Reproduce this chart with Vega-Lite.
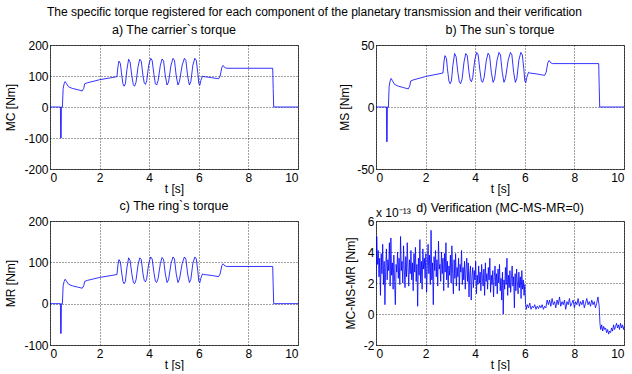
{
  "$schema": "https://vega.github.io/schema/vega-lite/v6.json",
  "background": "white",
  "padding": {"left": 4, "top": 6, "right": 0, "bottom": 0},
  "title": {"text": "The specific torque registered for each component of the planetary transmission and their verification", "fontSize": 12, "fontWeight": "normal", "font": "Liberation Sans", "color": "#000", "offset": 4, "anchor": "middle", "frame": "bounds"},
  "config": {
    "font": "Liberation Sans",
    "view": {"stroke": "#555", "strokeWidth": 1},
    "title": {"fontSize": 12.5, "fontWeight": "normal", "font": "Liberation Sans", "color": "#000", "offset": 3},
    "axis": {
      "labelFont": "Liberation Sans", "labelFontSize": 12, "labelColor": "#000",
      "titleFont": "Liberation Sans", "titleFontSize": 12, "titleFontWeight": "normal", "titleColor": "#000",
      "grid": true, "gridColor": "#000", "gridDash": [1, 2], "gridOpacity": 0.75, "gridWidth": 1,
      "domain": false, "ticks": false, "labelPadding": 2, "minExtent": 0,
      "labelExpr": "replace(datum.label, '−', '-')"
    },
    "axisY": {"minExtent": 0},
    "axisX": {"labelPadding": 3, "titlePadding": 0, "minExtent": 0},
    "line": {"color": "#0000ff", "strokeWidth": 0.8}
  },
  "datasets": {
    "torque": [
      {"t": 0, "MC": 0, "MS": 0, "MR": 0},
      {"t": 0.42, "MC": 0, "MS": 0, "MR": 0},
      {"t": 0.43, "MC": -100, "MS": -28, "MR": -72},
      {"t": 0.45, "MC": -100, "MS": -28, "MR": -72},
      {"t": 0.46, "MC": 0, "MS": 0, "MR": 0},
      {"t": 0.5, "MC": 0, "MS": 0, "MR": 0},
      {"t": 0.53, "MC": 60, "MS": 16.8, "MR": 43.2},
      {"t": 0.57, "MC": 75, "MS": 21, "MR": 54},
      {"t": 0.61, "MC": 82, "MS": 23, "MR": 59},
      {"t": 0.66, "MC": 76, "MS": 21.3, "MR": 54.7},
      {"t": 0.75, "MC": 65, "MS": 18.2, "MR": 46.8},
      {"t": 0.9, "MC": 60, "MS": 16.8, "MR": 43.2},
      {"t": 1.1, "MC": 56, "MS": 15.7, "MR": 40.3},
      {"t": 1.3, "MC": 52, "MS": 14.6, "MR": 37.4},
      {"t": 1.36, "MC": 60, "MS": 16.8, "MR": 43.2},
      {"t": 1.4, "MC": 75, "MS": 21, "MR": 54},
      {"t": 1.5, "MC": 78, "MS": 21.8, "MR": 56.2},
      {"t": 2.0, "MC": 88, "MS": 24.6, "MR": 63.4},
      {"t": 2.5, "MC": 95, "MS": 26.6, "MR": 68.4},
      {"t": 2.7, "MC": 98, "MS": 27.4, "MR": 70.6},
      {"t": 2.74, "MC": 130, "MS": 36.4, "MR": 93.6},
      {"t": 2.78, "MC": 148, "MS": 41.4, "MR": 106.6},
      {"t": 2.84, "MC": 140, "MS": 39.2, "MR": 100.8},
      {"t": 2.88, "MC": 110, "MS": 30.8, "MR": 79.2},
      {"t": 2.94, "MC": 75, "MS": 21, "MR": 54},
      {"t": 2.99, "MC": 67, "MS": 18.8, "MR": 48.2},
      {"t": 3.04, "MC": 75, "MS": 21, "MR": 54},
      {"t": 3.1, "MC": 120, "MS": 33.6, "MR": 86.4},
      {"t": 3.17, "MC": 154, "MS": 43.1, "MR": 110.9},
      {"t": 3.23, "MC": 145, "MS": 40.6, "MR": 104.4},
      {"t": 3.3, "MC": 100, "MS": 28, "MR": 72},
      {"t": 3.36, "MC": 72, "MS": 20.2, "MR": 51.8},
      {"t": 3.41, "MC": 67, "MS": 18.8, "MR": 48.2},
      {"t": 3.47, "MC": 80, "MS": 22.4, "MR": 57.6},
      {"t": 3.55, "MC": 130, "MS": 36.4, "MR": 93.6},
      {"t": 3.62, "MC": 154, "MS": 43.1, "MR": 110.9},
      {"t": 3.68, "MC": 148, "MS": 41.4, "MR": 106.6},
      {"t": 3.75, "MC": 100, "MS": 28, "MR": 72},
      {"t": 3.8, "MC": 78, "MS": 21.8, "MR": 56.2},
      {"t": 3.85, "MC": 73, "MS": 20.4, "MR": 52.6},
      {"t": 3.9, "MC": 85, "MS": 23.8, "MR": 61.2},
      {"t": 3.98, "MC": 135, "MS": 37.8, "MR": 97.2},
      {"t": 4.06, "MC": 157, "MS": 44, "MR": 113},
      {"t": 4.12, "MC": 150, "MS": 42, "MR": 108},
      {"t": 4.19, "MC": 105, "MS": 29.4, "MR": 75.6},
      {"t": 4.25, "MC": 75, "MS": 21, "MR": 54},
      {"t": 4.3, "MC": 71, "MS": 19.9, "MR": 51.1},
      {"t": 4.36, "MC": 85, "MS": 23.8, "MR": 61.2},
      {"t": 4.45, "MC": 135, "MS": 37.8, "MR": 97.2},
      {"t": 4.52, "MC": 155, "MS": 43.4, "MR": 111.6},
      {"t": 4.58, "MC": 148, "MS": 41.4, "MR": 106.6},
      {"t": 4.65, "MC": 100, "MS": 28, "MR": 72},
      {"t": 4.72, "MC": 71, "MS": 19.9, "MR": 51.1},
      {"t": 4.78, "MC": 80, "MS": 22.4, "MR": 57.6},
      {"t": 4.88, "MC": 135, "MS": 37.8, "MR": 97.2},
      {"t": 4.96, "MC": 157, "MS": 44, "MR": 113},
      {"t": 5.02, "MC": 150, "MS": 42, "MR": 108},
      {"t": 5.09, "MC": 100, "MS": 28, "MR": 72},
      {"t": 5.16, "MC": 71, "MS": 19.9, "MR": 51.1},
      {"t": 5.22, "MC": 82, "MS": 23, "MR": 59},
      {"t": 5.33, "MC": 135, "MS": 37.8, "MR": 97.2},
      {"t": 5.42, "MC": 157, "MS": 44, "MR": 113},
      {"t": 5.48, "MC": 150, "MS": 42, "MR": 108},
      {"t": 5.55, "MC": 100, "MS": 28, "MR": 72},
      {"t": 5.62, "MC": 71, "MS": 19.9, "MR": 51.1},
      {"t": 5.68, "MC": 82, "MS": 23, "MR": 59},
      {"t": 5.76, "MC": 135, "MS": 37.8, "MR": 97.2},
      {"t": 5.84, "MC": 157, "MS": 44, "MR": 113},
      {"t": 5.9, "MC": 150, "MS": 42, "MR": 108},
      {"t": 5.96, "MC": 110, "MS": 30.8, "MR": 79.2},
      {"t": 6.0, "MC": 75, "MS": 21, "MR": 54},
      {"t": 6.04, "MC": 70, "MS": 19.6, "MR": 50.4},
      {"t": 6.08, "MC": 85, "MS": 23.8, "MR": 61.2},
      {"t": 6.15, "MC": 100, "MS": 28, "MR": 72},
      {"t": 6.2, "MC": 98, "MS": 27.4, "MR": 70.6},
      {"t": 6.5, "MC": 95, "MS": 26.6, "MR": 68.4},
      {"t": 6.8, "MC": 91, "MS": 25.5, "MR": 65.5},
      {"t": 6.86, "MC": 100, "MS": 28, "MR": 72},
      {"t": 6.93, "MC": 128, "MS": 35.8, "MR": 92.2},
      {"t": 6.98, "MC": 134, "MS": 37.5, "MR": 96.5},
      {"t": 7.05, "MC": 127, "MS": 35.6, "MR": 91.4},
      {"t": 7.12, "MC": 125, "MS": 35, "MR": 90},
      {"t": 8.98, "MC": 125, "MS": 35, "MR": 90},
      {"t": 9.0, "MC": 60, "MS": 16.8, "MR": 43.2},
      {"t": 9.02, "MC": 0, "MS": 0, "MR": 0},
      {"t": 10, "MC": 0, "MS": 0, "MR": 0}
    ],
    "verif": [
      {"t": 0.0, "E": 2.0}, {"t": 0.03, "E": 5.0}, {"t": 0.06, "E": 3.2}, {"t": 0.09, "E": 4.1}, {"t": 0.12, "E": 2.4}, {"t": 0.15, "E": 3.6}, {"t": 0.18, "E": 1.2}, {"t": 0.21, "E": 3.9}, {"t": 0.24, "E": 2.6}, {"t": 0.27, "E": 4.5},
      {"t": 0.3, "E": 1.9}, {"t": 0.33, "E": 3.4}, {"t": 0.36, "E": 0.6}, {"t": 0.39, "E": 3.0}, {"t": 0.42, "E": 4.2}, {"t": 0.45, "E": 2.2}, {"t": 0.48, "E": 3.5}, {"t": 0.51, "E": 2.8}, {"t": 0.54, "E": 4.6}, {"t": 0.57, "E": 1.8},
      {"t": 0.6, "E": 4.9}, {"t": 0.63, "E": 2.5}, {"t": 0.66, "E": 3.3}, {"t": 0.69, "E": 1.6}, {"t": 0.72, "E": 3.8}, {"t": 0.75, "E": 2.1}, {"t": 0.78, "E": 0.6}, {"t": 0.81, "E": 3.2}, {"t": 0.84, "E": 2.7}, {"t": 0.87, "E": 4.0},
      {"t": 0.9, "E": 2.3}, {"t": 0.93, "E": 3.6}, {"t": 0.96, "E": 1.9}, {"t": 0.99, "E": 5.0}, {"t": 1.02, "E": 2.8}, {"t": 1.05, "E": 3.4}, {"t": 1.08, "E": 2.0}, {"t": 1.11, "E": 4.4}, {"t": 1.14, "E": 2.9}, {"t": 1.17, "E": 1.7},
      {"t": 1.2, "E": 3.7}, {"t": 1.23, "E": 2.4}, {"t": 1.26, "E": 4.6}, {"t": 1.29, "E": 3.0}, {"t": 1.32, "E": 1.8}, {"t": 1.35, "E": 3.5}, {"t": 1.38, "E": 2.6}, {"t": 1.41, "E": 4.1}, {"t": 1.44, "E": 2.2}, {"t": 1.47, "E": 3.3},
      {"t": 1.5, "E": 1.5}, {"t": 1.53, "E": 3.9}, {"t": 1.56, "E": 2.7}, {"t": 1.59, "E": 4.3}, {"t": 1.62, "E": 2.1}, {"t": 1.65, "E": 3.2}, {"t": 1.68, "E": 0.5}, {"t": 1.71, "E": 3.6}, {"t": 1.74, "E": 2.5}, {"t": 1.77, "E": 4.8},
      {"t": 1.8, "E": 2.0}, {"t": 1.83, "E": 3.4}, {"t": 1.86, "E": 1.6}, {"t": 1.89, "E": 4.2}, {"t": 1.92, "E": 2.9}, {"t": 1.95, "E": 3.6}, {"t": 1.98, "E": 2.3}, {"t": 2.01, "E": 3.9}, {"t": 2.04, "E": 1.4}, {"t": 2.07, "E": 3.1},
      {"t": 2.1, "E": 4.5}, {"t": 2.13, "E": 2.6}, {"t": 2.16, "E": 3.8}, {"t": 2.19, "E": 1.9}, {"t": 2.22, "E": 5.4}, {"t": 2.25, "E": 2.2}, {"t": 2.28, "E": 3.3}, {"t": 2.31, "E": 0.6}, {"t": 2.34, "E": 3.7}, {"t": 2.37, "E": 2.8},
      {"t": 2.4, "E": 4.1}, {"t": 2.43, "E": 2.4}, {"t": 2.46, "E": 3.5}, {"t": 2.49, "E": 1.8}, {"t": 2.52, "E": 4.7}, {"t": 2.55, "E": 2.9}, {"t": 2.58, "E": 3.2}, {"t": 2.61, "E": 2.1}, {"t": 2.64, "E": 4.0}, {"t": 2.67, "E": 2.6},
      {"t": 2.7, "E": 3.6}, {"t": 2.73, "E": 1.5}, {"t": 2.76, "E": 3.9}, {"t": 2.79, "E": 2.7}, {"t": 2.82, "E": 4.6}, {"t": 2.85, "E": 2.2}, {"t": 2.88, "E": 3.4}, {"t": 2.91, "E": 1.7}, {"t": 2.94, "E": 3.1}, {"t": 2.97, "E": 2.5},
      {"t": 3.0, "E": 3.8}, {"t": 3.03, "E": 2.0}, {"t": 3.06, "E": 4.4}, {"t": 3.09, "E": 2.6}, {"t": 3.12, "E": 1.3}, {"t": 3.15, "E": 3.5}, {"t": 3.18, "E": 2.3}, {"t": 3.21, "E": 3.9}, {"t": 3.24, "E": 1.8}, {"t": 3.27, "E": 3.0},
      {"t": 3.3, "E": 2.4}, {"t": 3.33, "E": 3.6}, {"t": 3.36, "E": 1.5}, {"t": 3.39, "E": 3.2}, {"t": 3.42, "E": 2.7}, {"t": 3.45, "E": 4.1}, {"t": 3.48, "E": 1.9}, {"t": 3.51, "E": 3.0}, {"t": 3.54, "E": 2.2}, {"t": 3.57, "E": 3.4},
      {"t": 3.6, "E": 1.6}, {"t": 3.63, "E": 2.9}, {"t": 3.66, "E": 3.6}, {"t": 3.69, "E": 2.1}, {"t": 3.72, "E": 3.3}, {"t": 3.75, "E": 1.1}, {"t": 3.78, "E": 2.6}, {"t": 3.81, "E": 3.1}, {"t": 3.84, "E": 0.9}, {"t": 3.87, "E": 2.4},
      {"t": 3.9, "E": 3.0}, {"t": 3.93, "E": 1.7}, {"t": 3.96, "E": 2.8}, {"t": 3.99, "E": 2.2}, {"t": 4.02, "E": 3.4}, {"t": 4.05, "E": 1.3}, {"t": 4.08, "E": 2.5}, {"t": 4.11, "E": 1.9}, {"t": 4.14, "E": 3.1}, {"t": 4.17, "E": 2.0},
      {"t": 4.2, "E": 2.7}, {"t": 4.23, "E": 1.5}, {"t": 4.26, "E": 3.2}, {"t": 4.29, "E": 2.3}, {"t": 4.32, "E": 1.8}, {"t": 4.35, "E": 2.9}, {"t": 4.38, "E": 1.2}, {"t": 4.41, "E": 3.3}, {"t": 4.44, "E": 2.1}, {"t": 4.47, "E": 2.6},
      {"t": 4.5, "E": 1.6}, {"t": 4.53, "E": 3.0}, {"t": 4.56, "E": 2.2}, {"t": 4.59, "E": 3.6}, {"t": 4.62, "E": 1.4}, {"t": 4.65, "E": 2.5}, {"t": 4.68, "E": 1.9}, {"t": 4.71, "E": 2.8}, {"t": 4.74, "E": 1.1}, {"t": 4.77, "E": 2.4},
      {"t": 4.8, "E": 3.1}, {"t": 4.83, "E": 1.8}, {"t": 4.86, "E": 2.6}, {"t": 4.89, "E": 1.3}, {"t": 4.92, "E": 2.9}, {"t": 4.95, "E": 2.0}, {"t": 4.98, "E": 3.2}, {"t": 5.01, "E": 1.5}, {"t": 5.04, "E": 2.3}, {"t": 5.07, "E": 0.9},
      {"t": 5.1, "E": 2.7}, {"t": 5.13, "E": 0.0}, {"t": 5.16, "E": 2.2}, {"t": 5.19, "E": 1.6}, {"t": 5.22, "E": 3.0}, {"t": 5.25, "E": 1.9}, {"t": 5.28, "E": 3.6}, {"t": 5.31, "E": 1.2}, {"t": 5.34, "E": 2.5}, {"t": 5.37, "E": 1.7},
      {"t": 5.4, "E": 2.8}, {"t": 5.43, "E": 1.4}, {"t": 5.46, "E": 2.3}, {"t": 5.49, "E": 3.1}, {"t": 5.52, "E": 1.8}, {"t": 5.55, "E": 2.4}, {"t": 5.58, "E": 0.4}, {"t": 5.61, "E": 2.6}, {"t": 5.64, "E": 1.5}, {"t": 5.67, "E": 2.9},
      {"t": 5.7, "E": 2.0}, {"t": 5.73, "E": 1.3}, {"t": 5.76, "E": 2.7}, {"t": 5.79, "E": 1.7}, {"t": 5.82, "E": 2.4}, {"t": 5.85, "E": 1.0}, {"t": 5.88, "E": 2.8}, {"t": 5.91, "E": 1.6}, {"t": 5.94, "E": 2.2}, {"t": 5.97, "E": 1.2},
      {"t": 6.0, "E": 1.9}, {"t": 6.03, "E": 0.7},
      {"t": 6.06, "E": 0.3}, {"t": 6.1, "E": 0.6}, {"t": 6.15, "E": 0.4}, {"t": 6.2, "E": 0.7}, {"t": 6.25, "E": 0.3}, {"t": 6.3, "E": 0.5}, {"t": 6.35, "E": 0.4}, {"t": 6.4, "E": 0.6}, {"t": 6.45, "E": 0.3}, {"t": 6.5, "E": 0.5},
      {"t": 6.55, "E": 0.35}, {"t": 6.6, "E": 0.55}, {"t": 6.65, "E": 0.4}, {"t": 6.7, "E": 0.6}, {"t": 6.75, "E": 0.3}, {"t": 6.8, "E": 0.5}, {"t": 6.85, "E": 0.4}, {"t": 6.9, "E": 0.9},
      {"t": 6.95, "E": 0.6}, {"t": 7.0, "E": 0.9}, {"t": 7.05, "E": 0.5}, {"t": 7.1, "E": 1.0}, {"t": 7.15, "E": 0.6}, {"t": 7.2, "E": 0.8}, {"t": 7.25, "E": 0.4}, {"t": 7.3, "E": 0.9}, {"t": 7.35, "E": 0.6}, {"t": 7.4, "E": 1.1},
      {"t": 7.45, "E": 0.5}, {"t": 7.5, "E": 0.8}, {"t": 7.55, "E": 0.6}, {"t": 7.6, "E": 0.9}, {"t": 7.65, "E": 0.3}, {"t": 7.7, "E": 0.8}, {"t": 7.75, "E": 0.6}, {"t": 7.8, "E": 1.0}, {"t": 7.85, "E": 0.5}, {"t": 7.9, "E": 0.7},
      {"t": 7.95, "E": 0.9}, {"t": 8.0, "E": 0.4}, {"t": 8.05, "E": 0.8}, {"t": 8.1, "E": 0.6}, {"t": 8.15, "E": 1.0}, {"t": 8.2, "E": 0.5}, {"t": 8.25, "E": 0.8}, {"t": 8.3, "E": 0.6}, {"t": 8.35, "E": 0.9}, {"t": 8.4, "E": 0.4},
      {"t": 8.45, "E": 0.7}, {"t": 8.5, "E": 1.0}, {"t": 8.55, "E": 0.6}, {"t": 8.6, "E": 0.8}, {"t": 8.65, "E": 0.5}, {"t": 8.7, "E": 0.9}, {"t": 8.75, "E": 0.6}, {"t": 8.8, "E": 0.8}, {"t": 8.85, "E": 0.4}, {"t": 8.9, "E": 0.7},
      {"t": 8.95, "E": 1.1}, {"t": 9.0, "E": 0.5},
      {"t": 9.03, "E": -0.6}, {"t": 9.06, "E": -1.0}, {"t": 9.1, "E": -0.7}, {"t": 9.14, "E": -1.1}, {"t": 9.18, "E": -0.8}, {"t": 9.22, "E": -1.0}, {"t": 9.26, "E": -0.9}, {"t": 9.3, "E": -1.2}, {"t": 9.34, "E": -1.0}, {"t": 9.38, "E": -1.3},
      {"t": 9.42, "E": -1.1}, {"t": 9.46, "E": -1.2}, {"t": 9.5, "E": -0.9}, {"t": 9.54, "E": -1.1}, {"t": 9.58, "E": -0.7}, {"t": 9.62, "E": -1.0}, {"t": 9.66, "E": -0.8}, {"t": 9.7, "E": -0.6}, {"t": 9.74, "E": -0.9}, {"t": 9.78, "E": -0.7},
      {"t": 9.82, "E": -1.0}, {"t": 9.86, "E": -0.6}, {"t": 9.9, "E": -0.9}, {"t": 9.94, "E": -0.7}, {"t": 9.98, "E": -1.0}, {"t": 10.0, "E": -0.8}
    ]
  },
  "columns": 2,
  "bounds": "flush",
  "spacing": {"row": 52, "column": 78},
  "concat": [
    {
      "width": 248, "height": 124,
      "title": "a) The carrier`s torque",
      "data": {"name": "torque"},
      "mark": {"type": "line", "clip": true},
      "encoding": {
        "x": {"field": "t", "type": "quantitative", "scale": {"domain": [0, 10], "nice": false}, "axis": {"title": "t [s]", "values": [0, 2, 4, 6, 8, 10]}},
        "y": {"field": "MC", "type": "quantitative", "scale": {"domain": [-200, 200], "nice": false}, "axis": {"title": "MC [Nm]", "values": [-200, -100, 0, 100, 200], "titlePadding": 6}}
      }
    },
    {
      "width": 248, "height": 124,
      "title": "b) The sun`s torque",
      "data": {"name": "torque"},
      "mark": {"type": "line", "clip": true},
      "encoding": {
        "x": {"field": "t", "type": "quantitative", "scale": {"domain": [0, 10], "nice": false}, "axis": {"title": "t [s]", "values": [0, 2, 4, 6, 8, 10]}},
        "y": {"field": "MS", "type": "quantitative", "scale": {"domain": [-50, 50], "nice": false}, "axis": {"title": "MS [Nm]", "values": [-50, 0, 50], "titlePadding": 5}}
      }
    },
    {
      "width": 248, "height": 124,
      "title": "c) The ring`s torque",
      "data": {"name": "torque"},
      "mark": {"type": "line", "clip": true},
      "encoding": {
        "x": {"field": "t", "type": "quantitative", "scale": {"domain": [0, 10], "nice": false}, "axis": {"title": "t [s]", "values": [0, 2, 4, 6, 8, 10]}},
        "y": {"field": "MR", "type": "quantitative", "scale": {"domain": [-100, 200], "nice": false}, "axis": {"title": "MR [Nm]", "values": [-100, 0, 100, 200], "titlePadding": 6}}
      }
    },
    {
      "width": 248, "height": 124,
      "title": {"text": "d) Verification (MC-MS-MR=0)", "offset": -7},
      "encoding": {
        "x": {"field": "t", "type": "quantitative", "scale": {"domain": [0, 10], "nice": false}, "axis": {"title": "t [s]", "values": [0, 2, 4, 6, 8, 10]}},
        "y": {"field": "E", "type": "quantitative", "scale": {"domain": [-2, 6], "nice": false}, "axis": {"title": "MC-MS-MR [Nm]", "values": [-2, 0, 2, 4, 6], "titlePadding": 6}}
      },
      "layer": [
        {
          "data": {"name": "verif"},
          "mark": {"type": "line", "clip": true}
        },
        {
          "data": {"values": [{"t": 0, "E": 6, "label": "x 10⁻¹³"}]},
          "mark": {"type": "text", "align": "left", "baseline": "bottom", "dy": -1, "fontSize": 12, "font": "Liberation Sans", "color": "#000"},
          "encoding": {
            "text": {"field": "label"}
          }
        }
      ]
    }
  ]
}
